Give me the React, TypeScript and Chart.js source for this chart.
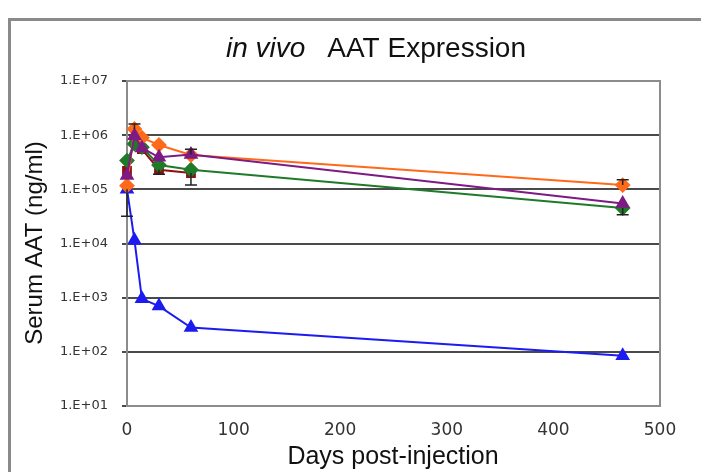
import React, { useEffect, useRef } from 'react';
import { Chart, registerables } from 'chart.js';

Chart.register(...registerables);

// ---- data ----
const days = [0, 7, 14, 30, 60, 465];
const orangeValues = [1.17e5, 1.3e6, 9.0e5, 6.6e5, 4.3e5, 1.2e5];
const purpleValues = [1.8e5, 9.8e5, 5.8e5, 3.9e5, 4.4e5, 5.5e4];
const greenValues = [3.4e5, 6.9e5, 6.0e5, 2.8e5, 2.3e5, 4.5e4];
const redValues = [2.2e5, 8.5e5, 5.5e5, 2.3e5, 2.0e5, null];
const blueValues = [1.0e5, 1.15e4, 9.5e2, 7.0e2, 2.8e2, 8.5e1];

const orangeErrUpper = [null, 1.6e6, null, null, null, 1.5e5];
const orangeErrLower = [null, null, null, null, null, null];
const purpleErrUpper = [null, null, null, null, 5.5e5, null];
const purpleErrLower = [null, null, null, null, null, null];
const greenErrUpper = [null, null, null, null, null, null];
const greenErrLower = [null, null, null, null, null, 3.4e4];
const redErrUpper = [null, null, null, null, null, null];
const redErrLower = [null, null, null, 1.9e5, 1.2e5, null];
const blueErrUpper = [null, null, null, null, null, null];
const blueErrLower = [3.2e4, null, null, null, null, null];

const yTickValues = [1e1, 1e2, 1e3, 1e4, 1e5, 1e6, 1e7];
const yTickLabels = ['1.E+01', '1.E+02', '1.E+03', '1.E+04', '1.E+05', '1.E+06', '1.E+07'];
const xTickValues = [0, 100, 200, 300, 400, 500];

const titleItalic = 'in vivo';
const titleRest = 'AAT Expression';
const yTitle = 'Serum AAT (ng/ml)';
const xTitle = 'Days post-injection';

const FONT = 'Arial, "Liberation Sans", Helvetica, sans-serif';
const TICK_FONT = '"DejaVu Sans", Verdana, sans-serif';

function toPoints(vals: (number | null)[]) {
  return days.map((d, i) => ({ x: d, y: vals[i] })).filter((p) => p.y !== null);
}
function alignErr(vals: (number | null)[], errs: (number | null)[]) {
  return days.map((_, i) => (vals[i] === null ? undefined : errs[i])).filter((v) => v !== undefined);
}

const errorBarPlugin = {
  id: 'errorBars',
  afterDatasetsDraw(chart: any) {
    const ctx = chart.ctx;
    const ys = chart.scales.y;
    ctx.save();
    ctx.strokeStyle = '#222';
    ctx.lineWidth = 1.5;
    chart.data.datasets.forEach((ds: any, di: number) => {
      const meta = chart.getDatasetMeta(di);
      meta.data.forEach((pt: any, i: number) => {
        const v = ds.data[i].y;
        const up = ds.errUpper[i];
        const lo = ds.errLower[i];
        const x = pt.x;
        const y0 = ys.getPixelForValue(v);
        const cap = 6;
        [up, lo].forEach((e) => {
          if (e == null) return;
          const y1 = ys.getPixelForValue(e);
          ctx.beginPath();
          ctx.moveTo(x, y0);
          ctx.lineTo(x, y1);
          ctx.moveTo(x - cap, y1);
          ctx.lineTo(x + cap, y1);
          ctx.stroke();
        });
      });
    });
    ctx.restore();
  },
};

const framePlugin = {
  id: 'frameAndTitles',
  beforeDatasetsDraw(chart: any) {
    const { ctx, chartArea } = chart;
    ctx.save();
    ctx.strokeStyle = '#8c8c8c';
    ctx.lineWidth = 2;
    ctx.strokeRect(chartArea.left, chartArea.top, chartArea.right - chartArea.left, chartArea.bottom - chartArea.top);
    ctx.restore();
  },
  afterDraw(chart: any) {
    const { ctx } = chart;
    ctx.save();
    ctx.fillStyle = '#111';
    // main title
    ctx.font = `italic 28px ${FONT}`;
    const w1 = ctx.measureText(titleItalic).width;
    ctx.font = `28px ${FONT}`;
    const w2 = ctx.measureText(titleRest).width;
    const gap = 22;
    const total = w1 + gap + w2;
    const cx = 365;
    const baseY = 36;
    ctx.textBaseline = 'alphabetic';
    ctx.textAlign = 'left';
    ctx.font = `italic 28px ${FONT}`;
    ctx.fillText(titleItalic, cx - total / 2, baseY);
    ctx.font = `28px ${FONT}`;
    ctx.fillText(titleRest, cx - total / 2 + w1 + gap, baseY);
    // y title
    ctx.save();
    ctx.translate(24, 222);
    ctx.rotate(-Math.PI / 2);
    ctx.font = `24px ${FONT}`;
    ctx.textAlign = 'center';
    ctx.textBaseline = 'middle';
    ctx.fillText(yTitle, 0, 0);
    ctx.restore();
    // x title
    ctx.font = `25px ${FONT}`;
    ctx.textAlign = 'center';
    ctx.textBaseline = 'middle';
    ctx.fillText(xTitle, 382, 436);
    ctx.restore();
  },
};

function makeSeries(label: string, vals: (number | null)[], up: (number | null)[], lo: (number | null)[], color: string, style: string, radius: number, order: number) {
  return {
    label,
    data: toPoints(vals),
    errUpper: alignErr(vals, up),
    errLower: alignErr(vals, lo),
    borderColor: color,
    backgroundColor: color,
    pointBackgroundColor: color,
    pointBorderColor: color,
    pointStyle: style,
    pointRadius: radius,
    borderWidth: 2,
    showLine: true,
    tension: 0,
    clip: false,
    order,
  };
}

export default function App() {
  const canvasRef = useRef<HTMLCanvasElement | null>(null);
  useEffect(() => {
    const canvas = canvasRef.current;
    if (!canvas) return;
    const chart = new Chart(canvas, {
      type: 'scatter',
      data: {
        datasets: [
          makeSeries('purple', purpleValues, purpleErrUpper, purpleErrLower, '#7d1a83', 'triangle', 6.5, 1),
          makeSeries('orange', orangeValues, orangeErrUpper, orangeErrLower, '#ff6a1a', 'rectRot', 6.5, 2),
          makeSeries('green', greenValues, greenErrUpper, greenErrLower, '#1f7a2a', 'rectRot', 6.5, 3),
          makeSeries('red', redValues, redErrUpper, redErrLower, '#8e1010', 'rect', 5.5, 4),
          makeSeries('blue', blueValues, blueErrUpper, blueErrLower, '#1c1cf0', 'triangle', 6.5, 5),
        ] as any,
      },
      options: {
        animation: false,
        responsive: false,
        devicePixelRatio: 1,
        layout: { padding: { top: 60, right: 41, left: 0, bottom: 0 } },
        plugins: { legend: { display: false }, tooltip: { enabled: false }, title: { display: false } },
        scales: {
          x: {
            type: 'linear',
            min: 0,
            max: 500,
            afterBuildTicks: (scale: any) => {
              scale.ticks = xTickValues.map((v) => ({ value: v }));
            },
            afterFit: (scale: any) => {
              scale.height = 66;
            },
            grid: { display: false, drawTicks: false },
            border: { display: false },
            ticks: { font: { size: 17, family: TICK_FONT }, color: '#333', padding: 14, maxRotation: 0 },
          },
          y: {
            type: 'logarithmic',
            min: 10,
            max: 1e7,
            afterBuildTicks: (scale: any) => {
              scale.ticks = yTickValues.map((v) => ({ value: v }));
            },
            afterFit: (scale: any) => {
              scale.width = 116;
            },
            grid: { color: '#4a4a4a', lineWidth: 2, tickLength: 5, drawTicks: true },
            border: { display: false },
            ticks: {
              font: { size: 13, family: TICK_FONT },
              color: '#333',
              padding: 14,
              callback: (value: any) => {
                const idx = yTickValues.indexOf(Number(value));
                return idx >= 0 ? yTickLabels[idx] : '';
              },
            },
          },
        },
      },
      plugins: [framePlugin, errorBarPlugin],
    } as any);
    return () => chart.destroy();
  }, []);

  return (
    <div
      style={{
        position: 'absolute',
        left: 8,
        top: 18,
        width: 693,
        height: 454,
        boxSizing: 'border-box',
        borderTop: '3px solid #8a8a8a',
        borderLeft: '3px solid #8a8a8a',
        background: '#fff',
      }}
    >
      <canvas ref={canvasRef} width={690} height={451} style={{ display: 'block' }} />
    </div>
  );
}
